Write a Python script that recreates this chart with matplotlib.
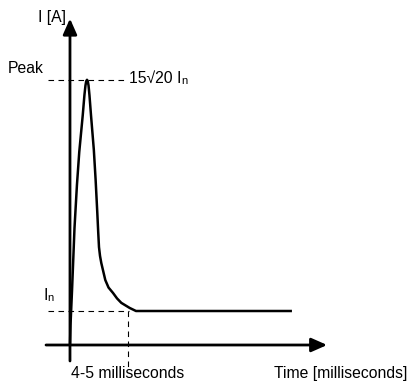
import numpy as np
import matplotlib.pyplot as plt

plt.rcParams['font.family'] = ['Liberation Sans', 'DejaVu Sans']

# =============================================================================
# Data: inrush current sketch (time in ms, current in multiples of In)
# =============================================================================
time_ms = [0.00, 0.04, 0.16, 0.35, 0.54, 0.72, 0.99, 1.12, 1.20, 1.26,
           1.32, 1.38, 1.44, 1.51, 1.63, 1.85, 1.99, 2.12, 2.19, 2.25,
           2.33, 2.43, 2.74, 2.99, 3.34, 3.65, 3.98, 4.63, 5.12, 17.22]
current = [0.00, 0.59, 1.62, 3.44, 4.71, 5.68, 6.76, 7.35, 7.63, 7.76,
           7.80, 7.76, 7.63, 7.35, 6.76, 5.74, 4.85, 3.88, 3.32, 2.88,
           2.62, 2.41, 1.91, 1.69, 1.53, 1.37, 1.24, 1.09, 1.00, 1.00]

I_NOMINAL = 1.00
I_PEAK    = 7.80
T_SETTLE  = 4.5

LABEL_PEAK   = 'Peak'
LABEL_VALUE  = '15√20 I'
LABEL_SETTLE = '4-5 milliseconds'
LABEL_X      = 'Time [milliseconds]'
LABEL_Y      = 'I [A]'

# =============================================================================
# Plot
# =============================================================================
fig = plt.figure(figsize=(4.10, 3.84), dpi=100)
ax = fig.add_axes([0, 0, 1, 1])
ax.set_xlim(-5.43, 26.38)
ax.set_ylim(-1.147, 10.147)
ax.axis('off')

# axes drawn as arrows through the origin
arrow = dict(arrowstyle='-|>,head_length=0.95,head_width=0.42',
             mutation_scale=10, lw=2.0, color='black',
             shrinkA=0, shrinkB=0)
ax.annotate('', xy=(0, 9.6), xytext=(0, -0.47), arrowprops=arrow)
ax.annotate('', xy=(19.95, 0), xytext=(-1.86, 0), arrowprops=arrow)

# guide lines
dash = dict(color='black', lw=0.8, dashes=(5, 4))
ax.plot([-1.71, T_SETTLE], [I_PEAK, I_PEAK], **dash)
ax.plot([-1.71, T_SETTLE + 0.1], [I_NOMINAL, I_NOMINAL], **dash)
ax.plot([T_SETTLE, T_SETTLE], [I_NOMINAL, -0.65], **dash)

# current curve
ax.plot(time_ms, current, color='black', lw=1.8,
        solid_joinstyle='round', solid_capstyle='butt')

fs, fs_sub = 11.3, 8
ax.text(-0.31, 9.62, LABEL_Y, ha='right', va='center', fontsize=fs)
ax.text(-4.81, 8.13, LABEL_PEAK, ha='left', va='center', fontsize=fs)
t_in = ax.text(-2.09, 1.47, 'I', ha='left', va='center', fontsize=fs)
ax.annotate('n', xy=(1, 0), xycoords=t_in, va='bottom', fontsize=fs_sub)
t_val = ax.text(4.6, 7.85, LABEL_VALUE, ha='left', va='center', fontsize=fs)
ax.annotate('n', xy=(1, 0), xycoords=t_val, va='bottom', fontsize=fs_sub)
ax.text(T_SETTLE, -0.85, LABEL_SETTLE, ha='center', va='center', fontsize=fs)
ax.text(26.2, -0.85, LABEL_X, ha='right', va='center', fontsize=fs)

fig.savefig('out.png', dpi=100)
